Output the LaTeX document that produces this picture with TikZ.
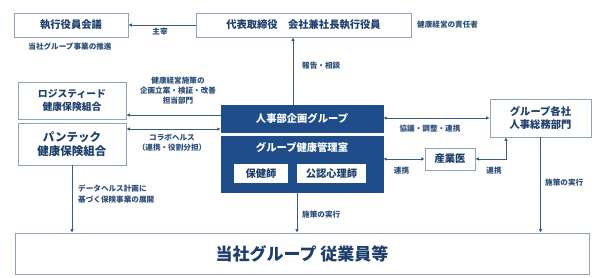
\documentclass[tikz,border=0pt]{standalone}
\usepackage{fontspec}
\setmainfont{Noto Sans CJK JP}
\usetikzlibrary{arrows.meta,calc}
\definecolor{navy}{HTML}{1F4D8A}
\definecolor{txt}{HTML}{1E3F6C}
\definecolor{lbl}{HTML}{2D4E7A}
\definecolor{bord}{HTML}{8FA3BA}
\definecolor{conn}{HTML}{3A5B85}
\tikzset{
  box/.style={draw=bord,line width=0.8pt,fill=white,inner sep=0pt,text=txt,align=center},
  dbox/.style={draw=navy,fill=navy,inner sep=0pt,text=white},
  wbox/.style={fill=white,inner sep=0pt,text=txt,font=\fontsize{10.3}{12}\selectfont\bfseries},
  lab/.style={text=lbl,font=\fontsize{7.6}{10}\selectfont\bfseries,align=center,inner sep=0pt},
  arr/.style={draw=conn,line width=0.8pt,-{Latex[length=3.5pt,width=3.5pt]}},
  darr/.style={draw=conn,line width=0.8pt,{Latex[length=3.5pt,width=3.5pt]}-{Latex[length=3.5pt,width=3.5pt]}}
}
\begin{document}
\begin{tikzpicture}[x=1pt,y=-1pt]
\path[use as bounding box,fill=white] (0,0) rectangle (600,277);
% boxes
\node[box,minimum width=114pt,minimum height=24pt,font=\fontsize{10.3}{12}\selectfont\bfseries] (shikko) at (71,25) {執行役員会議};
\node[box,minimum width=215pt,minimum height=24pt,font=\fontsize{10.3}{12}\selectfont\bfseries] (daihyo) at (303.5,25) {代表取締役\hspace{1em}会社兼社長執行役員};
\node[box,minimum width=108pt,minimum height=37pt,font=\fontsize{9.8}{12.5}\selectfont\bfseries] (logi) at (72,100.5) {ロジスティード\\健康保険組合};
\node[box,minimum width=108pt,minimum height=42pt,font=\fontsize{11.5}{14}\selectfont\bfseries] (pantec) at (72,144) {パンテック\\健康保険組合};
\node[dbox,minimum width=162pt,minimum height=27pt,font=\fontsize{10.3}{12}\selectfont\bfseries] (jinji) at (302,118.5) {人事部企画グループ};
\node[dbox,minimum width=162pt,minimum height=56pt] (kenko) at (302,164) {};
\node[text=white,inner sep=0pt,font=\fontsize{10.3}{12}\selectfont\bfseries] (kenkot) at (302,147) {グループ健康管理室};
\node[wbox,minimum width=54pt,minimum height=19pt] (hoken) at (261,173.5) {保健師};
\node[wbox,minimum width=69pt,minimum height=19pt] (kounin) at (331.5,173.5) {公認心理師};
\node[box,minimum width=101pt,minimum height=38pt,font=\fontsize{10.3}{12.5}\selectfont\bfseries] (group) at (540.5,118) {グループ各社\\人事総務部門};
\node[box,minimum width=50pt,minimum height=22pt,font=\fontsize{10.3}{12}\selectfont\bfseries] (sangyo) at (450,159) {産業医};
\node[box,minimum width=574pt,minimum height=41pt,font=\fontsize{17}{20}\selectfont\bfseries] (emp) at (302,253.5) {当社グループ 従業員等};
% labels
\node[lab] (l1) at (70,47) {当社グループ事業の推進};
\node[lab,anchor=west] (l2) at (417,25) {健康経営の責任者};
\node[lab] (l3) at (160,32) {主宰};
\node[lab,anchor=west] (l4) at (302,66) {報告・相談};
\node[lab,font=\fontsize{7.6}{9.8}\selectfont\bfseries] (l5) at (178,90.5) {健康経営施策の\\企画立案・検証・改善\\担当部門};
\node[lab,font=\fontsize{7.6}{10}\selectfont\bfseries] (l6) at (172,142.5) {コラボヘルス\\（連携・役割分担）};
\node[lab,anchor=west,align=left,font=\fontsize{7.6}{10.5}\selectfont\bfseries] (l7) at (78,194) {データヘルス計画に\\基づく保険事業の展開};
\node[lab,anchor=west] (l8) at (302,215) {施策の実行};
\node[lab] (l9) at (430,129) {協議・調整・連携};
\node[lab] (l10) at (401.5,171) {連携};
\node[lab] (l11) at (494,171) {連携};
\node[lab,anchor=west] (l12) at (545,183) {施策の実行};
% connectors
\draw[arr] (daihyo.west) -- (shikko.east);
\draw[arr] ([xshift=-9pt]jinji.north) -- ([xshift=-9pt]jinji.north |- daihyo.south);
\draw[arr] (jinji.west |- 0,115) -- (logi.east |- 0,115);
\draw[darr] (pantec.east |- 0,129) -- (jinji.west |- 0,129);
\draw[darr] (jinji.east |- group.west) -- (group.west);
\draw[darr] (kenko.east |- sangyo.west) -- (sangyo.west);
\draw[darr] (sangyo.east) -| ([xshift=-34.5pt]group.south);
\draw[arr] (pantec.south) -- (pantec.south |- emp.north);
\draw[arr] ([xshift=-5pt]kenko.south) -- ([xshift=-5pt]kenko.south |- emp.north);
\draw[arr] (group.south) -- (group.south |- emp.north);
\end{tikzpicture}
\end{document}
